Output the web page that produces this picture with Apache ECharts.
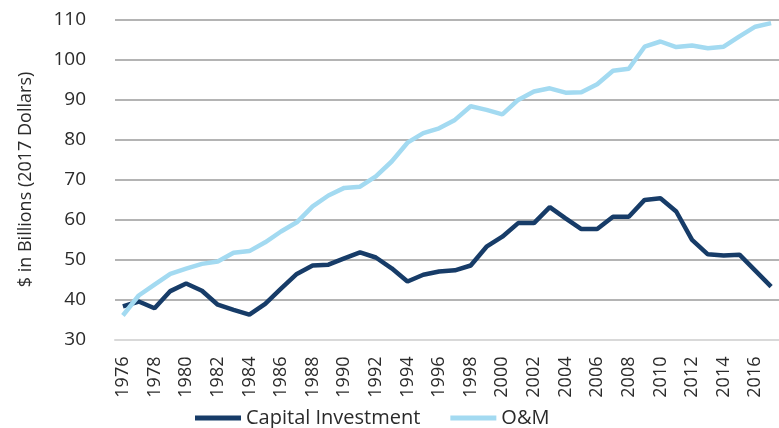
<!DOCTYPE html>
<html lang="en">
<head>
    <meta charset="UTF-8"/>
    <title>Capital vs O&amp;M</title>
    <script src="https://cdn.jsdelivr.net/npm/echarts@6/dist/echarts.min.js"></script>
    <style>
        html, body { margin: 0; padding: 0; background: #fff; }
    </style>
</head>
<body>

<div id="main" style="width: 779px;height:428px;"></div>

<script type="text/javascript">
    // data, 1976 - 2017
    var years = [];
    for (var y = 1976; y <= 2017; y++) years.push(String(y));

    var capitalInvestment = [
        38.3, 39.5, 37.8, 42.1, 44.0, 42.2, 38.7, 37.4, 36.2, 38.9,
        42.7, 46.4, 48.5, 48.7, 50.3, 51.8, 50.5, 47.8, 44.5, 46.2,
        47.0, 47.3, 48.5, 53.2, 55.7, 59.1, 59.1, 63.1, 60.3, 57.6,
        57.6, 60.7, 60.7, 64.9, 65.3, 62.0, 54.9, 51.3, 51.0, 51.2,
        47.2, 43.2
    ];

    var oAndM = [
        36.0, 41.0, 43.7, 46.4, 47.7, 48.9, 49.5, 51.7, 52.1, 54.3,
        57.0, 59.3, 63.3, 66.0, 67.9, 68.2, 70.8, 74.5, 79.2, 81.6,
        82.8, 84.9, 88.3, 87.4, 86.3, 89.9, 92.0, 92.8, 91.7, 91.8,
        93.8, 97.2, 97.7, 103.2, 104.5, 103.1, 103.5, 102.8, 103.2, 105.8,
        108.2, 109.1
    ];

    var yTicks = { min: 30, max: 110, step: 10 };

    var textColor = '#2b2b2b';
    var fontFamily = '"Open Sans", "Noto Sans", sans-serif';

    var myChart = echarts.init(document.getElementById('main'));

    var option = {
        animation: false,
        textStyle: { fontFamily: fontFamily },
        grid: {
            left: 115,
            right: -8,
            top: 19.5,
            bottom: 88.5
        },
        legend: {
            left: 195,
            top: 408,
            padding: 0,
            icon: 'rect',
            itemWidth: 46,
            itemHeight: 5,
            itemGap: 30,
            textStyle: { fontSize: 20, color: textColor, fontFamily: fontFamily },
            data: ['Capital Investment', 'O&M']
        },
        xAxis: {
            type: 'category',
            data: years,
            boundaryGap: true,
            axisLine: { lineStyle: { color: '#d9d9d9', width: 2 } },
            axisTick: { show: false },
            axisLabel: {
                rotate: 90,
                interval: 1,
                margin: 17,
                fontSize: 18,
                color: textColor,
                fontFamily: fontFamily
            }
        },
        yAxis: {
            type: 'value',
            min: yTicks.min,
            max: yTicks.max,
            interval: yTicks.step,
            name: '$ in Billions (2017 Dollars)',
            nameLocation: 'middle',
            nameGap: 80,
            nameTextStyle: { fontSize: 18, color: textColor, fontFamily: fontFamily },
            axisLine: { show: false },
            axisTick: { show: false },
            axisLabel: {
                margin: 29,
                fontSize: 19,
                color: textColor,
                fontFamily: fontFamily
            },
            splitLine: {
                lineStyle: {
                    color: ['#d9d9d9', '#9b9b9b', '#9b9b9b', '#9b9b9b', '#9b9b9b',
                            '#9b9b9b', '#9b9b9b', '#9b9b9b', '#9b9b9b'],
                    width: 1.5
                }
            }
        },
        series: [
            {
                name: 'Capital Investment',
                type: 'line',
                data: capitalInvestment,
                showSymbol: false,
                symbol: 'none',
                lineStyle: { color: '#173c68', width: 4.5 },
                itemStyle: { color: '#173c68' }
            },
            {
                name: 'O&M',
                type: 'line',
                data: oAndM,
                showSymbol: false,
                symbol: 'none',
                lineStyle: { color: '#a3daf1', width: 4.5 },
                itemStyle: { color: '#a3daf1' }
            }
        ]
    };

    myChart.setOption(option);
</script>
</body>
</html>
